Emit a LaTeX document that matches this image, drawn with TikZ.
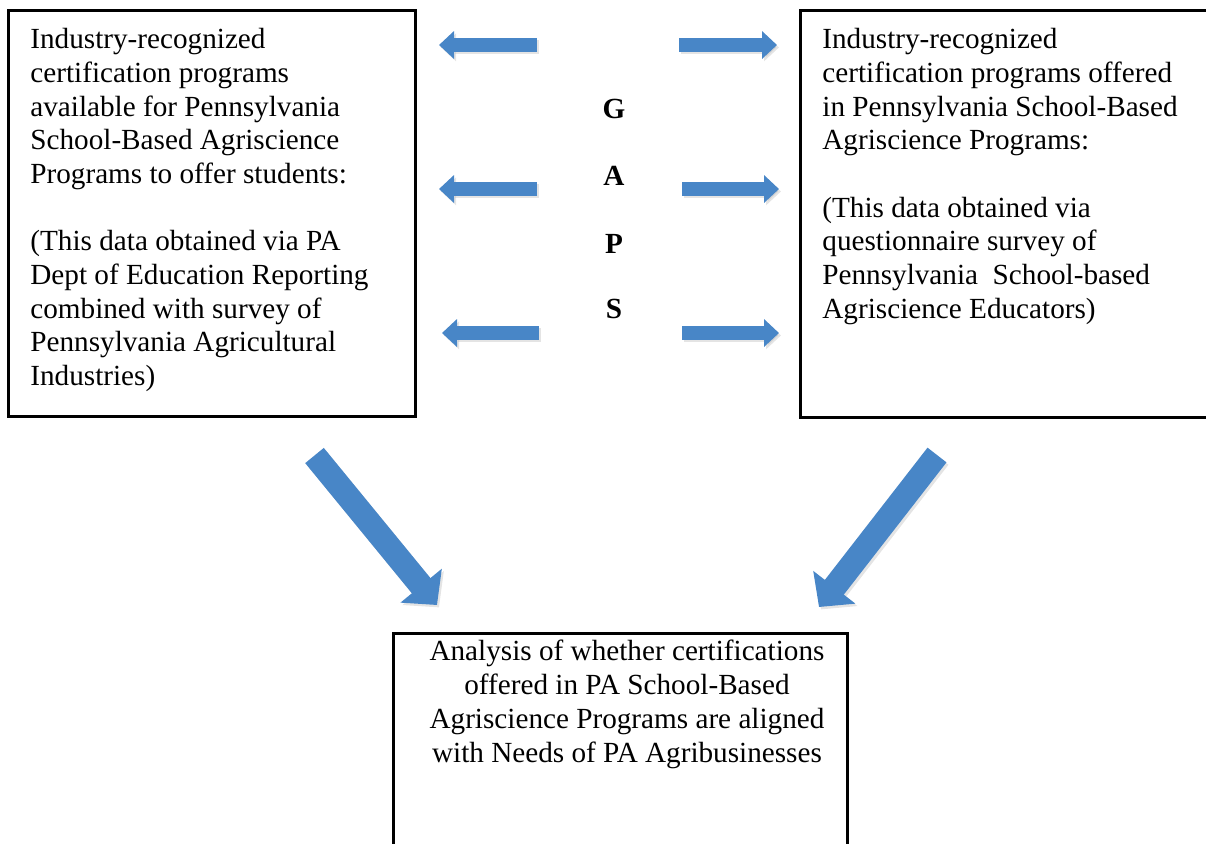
\documentclass[tikz,border=0pt]{standalone}
\usepackage{fontspec}
\setmainfont{Liberation Serif}
\usetikzlibrary{arrows.meta}
\definecolor{arrowblue}{RGB}{72,134,199}
\begin{document}
\begin{tikzpicture}[x=0.5pt,y=-0.5pt,
  box/.style={draw=black, line width=1.5pt, inner sep=0pt, outer sep=0pt, anchor=north west},
  txt/.style={font=\fontsize{14.6}{16.85}\selectfont, align=left, anchor=north west, inner sep=0pt},
  ctxt/.style={font=\fontsize{14.6}{16.85}\selectfont, align=center, anchor=north, inner sep=0pt},
  gap/.style={font=\fontsize{14.6}{16.8}\selectfont\bfseries, anchor=base, inner sep=0pt},
  harrow/.style={draw=arrowblue, line width=7pt, -{Triangle[length=7.5pt,width=13.5pt]}},
  darrow/.style={draw=arrowblue, line width=12pt, -{Triangle[length=12.5pt,width=26pt]}},
  shadowed/.style={draw=black!30, opacity=0.35, transform canvas={shift={(1pt,-1.2pt)}}}]
\useasboundingbox (0,0) rectangle (1206,843);

% boxes
\node[box, minimum width=203.5pt, minimum height=203pt] (L) at (8,10) {};
\node[box, minimum width=206pt, minimum height=203.5pt] (R) at (800,10) {};
\node[box, minimum width=227pt, minimum height=130pt] (B) at (393,633) {};

% texts
\node[txt] (Lt) at (30,28) {Industry-recognized\\certification programs\\available for Pennsylvania\\School-Based Agriscience\\Programs to offer students:\\[16.85pt](This data obtained via PA\\Dept of Education Reporting\\combined with survey of\\Pennsylvania Agricultural\\Industries)};
\node[txt] (Rt) at (822,28) {Industry-recognized\\certification programs offered\\in Pennsylvania School-Based\\Agriscience Programs:\\[16.85pt](This data obtained via\\questionnaire survey of\\Pennsylvania\ \ School-based\\Agriscience Educators)};
\node[ctxt] (Bt) at (627,640) {Analysis of whether certifications\\offered in PA School-Based\\Agriscience Programs are aligned\\with Needs of PA Agribusinesses};

% GAPS
\node[gap] (G) at (614,118) {G};
\node[gap] (A) at (614,185) {A};
\node[gap] (P) at (614,253) {P};
\node[gap] (S) at (614,318) {S};

% arrow end points
\coordinate (l1s) at (537,45);  \coordinate (l1e) at (439,45);
\coordinate (r1s) at (679,45);  \coordinate (r1e) at (777,45);
\coordinate (l2s) at (537,189); \coordinate (l2e) at (439,189);
\coordinate (r2s) at (682,189); \coordinate (r2e) at (779,189);
\coordinate (l3s) at (539,333); \coordinate (l3e) at (442,333);
\coordinate (r3s) at (682,333); \coordinate (r3e) at (779,333);
\coordinate (dls) at (314.5,455.5); \coordinate (dle) at (437,605);
\coordinate (drs) at (937,455);   \coordinate (dre) at (819,607);

% shadows
\foreach \a/\b in {l1s/l1e,r1s/r1e,l2s/l2e,r2s/r2e,l3s/l3e,r3s/r3e}
  \draw[harrow, shadowed] (\a) -- (\b);
\draw[darrow, shadowed] (dls) -- (dle);
\draw[darrow, shadowed] (drs) -- (dre);

% arrows
\draw[harrow] (l1s) -- (l1e);
\draw[harrow] (r1s) -- (r1e);
\draw[harrow] (l2s) -- (l2e);
\draw[harrow] (r2s) -- (r2e);
\draw[harrow] (l3s) -- (l3e);
\draw[harrow] (r3s) -- (r3e);
\draw[darrow] (dls) -- (dle);
\draw[darrow] (drs) -- (dre);
\end{tikzpicture}
\end{document}
